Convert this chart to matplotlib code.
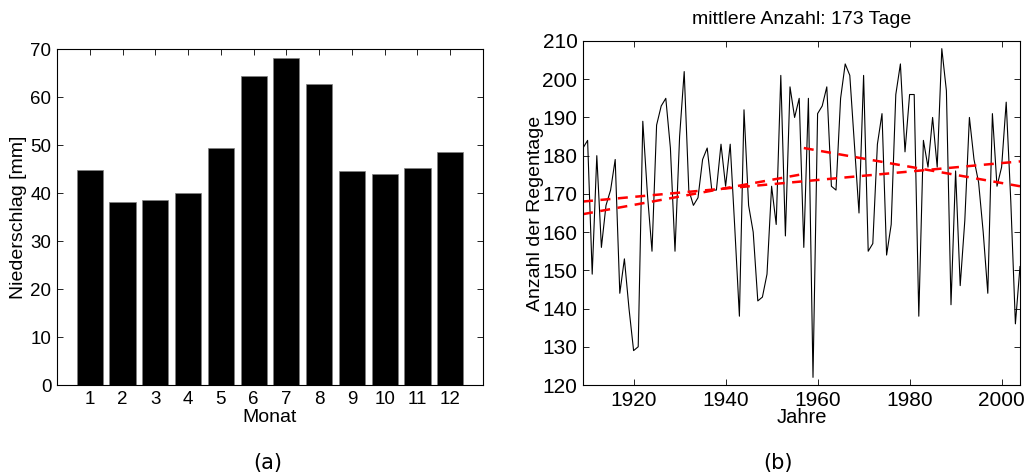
import matplotlib
matplotlib.use("Agg")
import matplotlib.pyplot as plt
import numpy as np

plt.rcParams['font.family'] = ['Liberation Sans', 'DejaVu Sans']

# ---- data (a) ----
months = [1, 2, 3, 4, 5, 6, 7, 8, 9, 10, 11, 12]
precip = [44.7, 38.1, 38.5, 40.1, 49.3, 64.4, 68.2, 62.7, 44.5, 44.0, 45.2, 48.6]

# ---- data (b) ----
years = list(range(1909, 2005))
rain_days = [182, 184, 149, 180, 156, 167, 171, 179, 144, 153,
             140, 129, 130, 189, 170, 155, 188, 193, 195, 182,
             155, 185, 202, 171, 167, 169, 179, 182, 171, 171,
             183, 172, 183, 161, 138, 192, 167, 160, 142, 143,
             149, 172, 162, 201, 159, 198, 190, 195, 156, 195,
             122, 191, 193, 198, 172, 171, 195, 204, 201, 183,
             165, 201, 155, 157, 183, 191, 154, 162, 196, 204,
             181, 196, 196, 138, 184, 177, 190, 177, 208, 197,
             141, 176, 146, 163, 190, 179, 173, 160, 144, 191,
             172, 177, 194, 168, 136, 151]
trend_full_x = [1909, 2004]
trend_full_y = [168.0, 178.5]
trend_first_x = [1909, 1956]
trend_first_y = [164.7, 175.0]
trend_second_x = [1957, 2004]
trend_second_y = [182.0, 172.0]
title_b = "mittlere Anzahl: 173 Tage"

fig = plt.figure(figsize=(10.24, 4.74), dpi=100)

# (a)
ax1 = fig.add_axes([57/1024, 1-385/474, 426/1024, 336/474])
ax1.bar(months, precip, width=0.8, color='black', edgecolor='#808080', linewidth=0.5)
ax1.set_xlim(0, 13)
ax1.set_ylim(0, 70)
ax1.set_xticks(months)
ax1.set_yticks(range(0, 71, 10))
ax1.tick_params(direction='in', top=True, right=True, labelsize=13.5, length=4, width=0.6, pad=4)
ax1.set_xlabel("Monat", fontsize=14, labelpad=1)
ax1.set_ylabel("Niederschlag [mm]", fontsize=14)
ax1.yaxis.set_label_coords(-0.071, 0.5)
for s in ax1.spines.values():
    s.set_linewidth(0.8)

# (b)
ax2 = fig.add_axes([583/1024, 1-385/474, 437/1024, 344/474])
ax2.plot(years, rain_days, color='black', linewidth=0.8)
ax2.plot(trend_full_x, trend_full_y, color='red', linestyle='--', linewidth=1.8, dashes=(4, 3))
ax2.plot(trend_first_x, trend_first_y, color='red', linestyle='--', linewidth=1.8, dashes=(4, 3))
ax2.plot(trend_second_x, trend_second_y, color='red', linestyle='--', linewidth=1.8, dashes=(4, 3))
ax2.set_xlim(1909, 2004)
ax2.set_ylim(120, 210)
ax2.set_xticks([1920, 1940, 1960, 1980, 2000])
ax2.set_yticks(range(120, 211, 10))
ax2.tick_params(direction='in', top=True, right=True, labelsize=15, length=4, width=0.6, pad=4)
ax2.set_xlabel("Jahre", fontsize=14.5, labelpad=-1)
ax2.set_ylabel("Anzahl der Regentage", fontsize=14)
ax2.yaxis.set_label_coords(-0.089, 0.5)
ax2.set_title(title_b, fontsize=14, pad=12)
for s in ax2.spines.values():
    s.set_linewidth(0.8)

fig.text(268/1024, 1-463/474, "(a)", ha='center', va='center', fontsize=15, family='DejaVu Sans')
fig.text(778/1024, 1-463/474, "(b)", ha='center', va='center', fontsize=15, family='DejaVu Sans')

fig.savefig("out.png", dpi=100)
